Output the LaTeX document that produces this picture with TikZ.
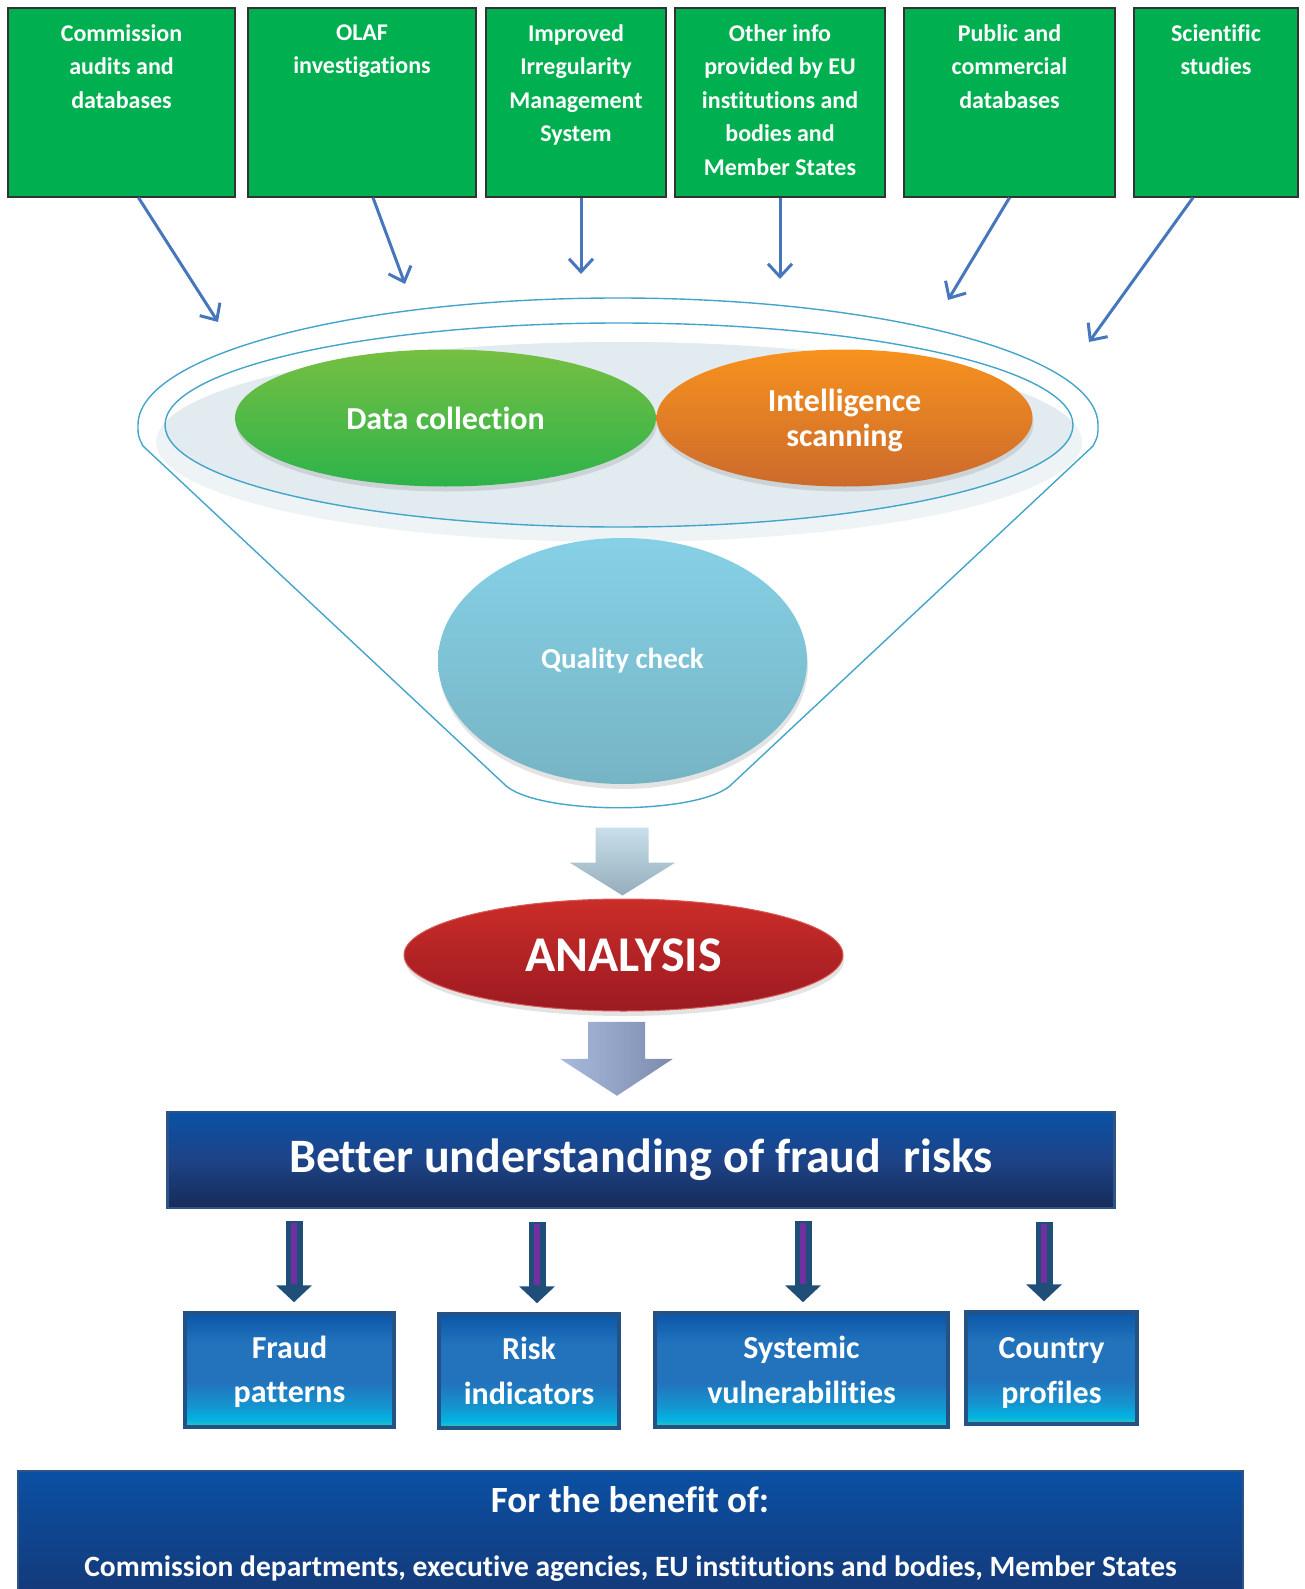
\documentclass[tikz,border=0pt]{standalone}
\usepackage{fontspec}
\setmainfont{Carlito}[Ligatures=NoCommon]
\usepackage{tikz}
\usepackage{xcolor}
\usetikzlibrary{positioning,arrows.meta,shapes.geometric,shadows,calc}

\definecolor{srcgreen}{HTML}{00B050}
\definecolor{feedblue}{HTML}{4676BB}
\definecolor{funnelline}{HTML}{43A5C9}
\definecolor{rimfill}{HTML}{EEF3F6}
\definecolor{rimshade}{HTML}{E2EBF0}
\definecolor{dcTop}{HTML}{76BF43}
\definecolor{dcBot}{HTML}{2DB34A}
\definecolor{isTop}{HTML}{F7921E}
\definecolor{isBot}{HTML}{CC6A2C}
\definecolor{qcTop}{HTML}{86D0E6}
\definecolor{qcBot}{HTML}{76B4C4}
\definecolor{anTop}{HTML}{CB2D29}
\definecolor{anBot}{HTML}{9C1A22}
\definecolor{anLine}{HTML}{D75A55}
\definecolor{aTop}{HTML}{C8DFEB}
\definecolor{aBot}{HTML}{95ADBA}
\definecolor{bLeft}{HTML}{A8BADD}
\definecolor{bRight}{HTML}{7C8BAC}
\definecolor{riskTop}{HTML}{0A52A6}
\definecolor{riskMid}{HTML}{1D4387}
\definecolor{riskBot}{HTML}{172B58}
\definecolor{riskLine}{HTML}{2F5385}
\definecolor{tileTop}{HTML}{0B56A8}
\definecolor{tileMid}{HTML}{2272BC}
\definecolor{tileSoft}{HTML}{1496D0}
\definecolor{tileCyan}{HTML}{00B5E2}
\definecolor{tileFoot}{HTML}{48C0AC}
\definecolor{tileLine}{HTML}{245284}
\definecolor{arrowNavy}{HTML}{1F4E79}
\definecolor{arrowPurple}{HTML}{7030A0}
\definecolor{benTop}{HTML}{0B50A4}
\definecolor{benBot}{HTML}{1A2C5E}

\pgfdeclareverticalshading{tileshade}{100bp}{color(0bp)=(tileFoot); color(25bp)=(tileFoot); color(28bp)=(tileCyan); color(34bp)=(tileSoft); color(45bp)=(tileMid); color(62bp)=(tileMid); color(75bp)=(tileTop); color(100bp)=(tileTop)}

\begin{document}
\begin{tikzpicture}[
    x=1pt, y=-1pt,
    source/.style={
      draw=black!80,
      line width=1.3pt,
      fill=srcgreen,
      minimum height=189pt,
      inner sep=0pt
    },
    srctext/.style={
      anchor=north,
      align=center,
      inner sep=0pt,
      text=white,
      font=\fontsize{24}{33.4}\selectfont\bfseries,
      execute at begin node={\rule{0pt}{18pt}}
    },
    feed/.style={-{Straight Barb[length=13pt, width=24pt]}, line width=3pt, feedblue},
    funnel/.style={funnelline, line width=1.4pt},
    blob/.style={
      ellipse,
      inner sep=0pt,
      align=center,
      text=white,
      drop shadow={shadow xshift=1pt, shadow yshift=-5pt, opacity=0.22}
    },
    tile/.style={
      draw=tileLine,
      line width=3.5pt,
      shade,
      shading=tileshade,
      align=center,
      inner sep=0pt,
      text=white,
      font=\fontsize{32}{44.6}\selectfont\bfseries
    },
    outarrow/.style={-{Triangle[length=17pt, width=35pt]}, line width=17pt, arrowNavy},
    outcore/.style={line width=6pt, arrowPurple}
  ]
    \useasboundingbox (0,0) rectangle (1304,1589);
    \clip (0,0) rectangle (1304,1589);

    \node[source, minimum width=227pt] (s1) at (121.5,102.5) {};
    \node[srctext] (t1) at (121.5,24.5) {Commission\\audits and\\databases};
    \node[source, minimum width=228pt] (s2) at (362,102.5) {};
    \node[srctext] (t2) at (362,24.5) {OLAF\\investigations};
    \node[source, minimum width=180pt] (s3) at (576,102.5) {};
    \node[srctext] (t3) at (576,24.5) {Improved\\Irregularity\\Management\\System};
    \node[source, minimum width=210pt] (s4) at (780,102.5) {};
    \node[srctext] (t4) at (780,24.5) {Other info\\provided by EU\\institutions and\\bodies and\\Member States};
    \node[source, minimum width=211pt] (s5) at (1009.5,102.5) {};
    \node[srctext] (t5) at (1009.5,24.5) {Public and\\commercial\\databases};
    \node[source, minimum width=164pt] (s6) at (1216,102.5) {};
    \node[srctext] (t6) at (1216,24.5) {Scientific\\studies};

    \coordinate (f1) at (218,322);
    \coordinate (f2) at (405,284);
    \coordinate (f3) at (581,274);
    \coordinate (f4) at (780,279);
    \coordinate (f5) at (948,300);
    \coordinate (f6) at (1089,342);
    \draw[feed] ([xshift=17pt]s1.south) -- (f1);
    \draw[feed] ([xshift=11pt]s2.south) -- (f2);
    \draw[feed] ([xshift=5pt]s3.south) -- (f3);
    \draw[feed] (s4.south) -- (f4);
    \draw[feed] (s5.south) -- (f5);
    \draw[feed] ([xshift=-23pt]s6.south) -- (f6);

    \fill[rimfill] (619,442) ellipse [x radius=463, y radius=100];
    \begin{scope}
      \clip (619,425) ellipse [x radius=454, y radius=102];
      \fill[rimshade] (619,442) ellipse [x radius=463, y radius=100];
    \end{scope}
    \draw[funnel] (619,425) ellipse [x radius=454, y radius=102];
    \draw[funnel] (138,425) arc[start angle=180, end angle=0, x radius=480pt, y radius=127pt]
      .. controls (1098,436) .. (1093,446) -- (733,783)
      .. controls (704,816) and (532,816) .. (503,783) -- (143,446)
      .. controls (138,436) .. (138,425);

    \node[blob, minimum width=421pt, minimum height=137pt, top color=dcTop, bottom color=dcBot,
      font=\fontsize{32}{34.5}\selectfont\bfseries] (dc) at (445.5,418) {Data collection};
    \node[blob, minimum width=376pt, minimum height=137pt, top color=isTop, bottom color=isBot,
      font=\fontsize{32}{34.5}\selectfont\bfseries] (is) at (844.5,418) {\rule{0pt}{27pt}Intelligence\\scanning};
    \node[blob, minimum width=369pt, minimum height=246pt, top color=qcTop, bottom color=qcBot,
      font=\fontsize{29}{32}\selectfont\bfseries] (qc) at (622.5,661) {Quality check};
    \node[blob, minimum width=439pt, minimum height=112pt, top color=anTop, bottom color=anBot,
      draw=anLine, line width=1pt, font=\fontsize{50}{54}\selectfont\bfseries] (an) at (623.5,955) {ANALYSIS};

    \coordinate (q1) at ($(an.north)+(-1,-3)$);
    \shade[top color=aTop, bottom color=aBot] (q1) -- ++(-53,-33) -- ++(26,0) -- ++(0,-35)
      -- ++(53,0) -- ++(0,35) -- ++(27,0) -- cycle;

    \node[draw=riskLine, line width=2.5pt, top color=riskTop, bottom color=riskBot, middle color=riskMid,
      minimum width=947pt, minimum height=96pt, text=white,
      font=\fontsize{48}{52}\selectfont\bfseries] (risk) at (641,1160) {Better understanding of fraud\ \ risks};

    \coordinate (q2) at ($(risk.north)+(-24,-15)$);
    \shade[left color=bLeft, right color=bRight] (q2) -- ++(-57,-37) -- ++(28,0) -- ++(0,-37)
      -- ++(57,0) -- ++(0,37) -- ++(28,0) -- cycle;

    \node[tile, minimum width=209pt, minimum height=114pt] (fp) at (289.5,1370) {\rule{0pt}{26pt}Fraud\\patterns};
    \node[tile, minimum width=180pt, minimum height=114pt] (ri) at (529,1371) {Risk\\indicators};
    \node[tile, minimum width=293pt, minimum height=114pt] (sv) at (801.5,1370) {Systemic\\vulnerabilities};
    \node[tile, minimum width=171pt, minimum height=112pt] (cp) at (1051.5,1368) {\rule{0pt}{31pt}Country\\profiles};

    \draw[outarrow] ($(fp.north)+(4.5,-90)$) -- ($(fp.north)+(4.5,-9)$);
    \draw[outcore] ($(fp.north)+(4.5,-88)$) -- ($(fp.north)+(4.5,-27)$);
    \draw[outarrow] ($(ri.north)+(8,-90)$) -- ($(ri.north)+(8,-9)$);
    \draw[outcore] ($(ri.north)+(8,-88)$) -- ($(ri.north)+(8,-27)$);
    \draw[outarrow] ($(sv.north)+(1.5,-90)$) -- ($(sv.north)+(1.5,-9)$);
    \draw[outcore] ($(sv.north)+(1.5,-88)$) -- ($(sv.north)+(1.5,-27)$);
    \draw[outarrow] ($(cp.north)+(-7.5,-88)$) -- ($(cp.north)+(-7.5,-9)$);
    \draw[outcore] ($(cp.north)+(-7.5,-86)$) -- ($(cp.north)+(-7.5,-27)$);

    \node[draw=riskLine, line width=2pt, top color=benTop, bottom color=benBot, inner sep=0pt,
      minimum width=1225pt, minimum height=200pt, anchor=north] (ben) at (630.5,1470) {};
    \node[text=white, font=\fontsize{37}{42}\selectfont\bfseries] (benhead) at (630,1500) {For the benefit of:};
    \node[text=white, font=\fontsize{29.5}{33}\selectfont\bfseries] (benlist) at (630.5,1569)
      {Commission departments, executive agencies, EU institutions and bodies, Member States};
  \end{tikzpicture}
\end{document}
